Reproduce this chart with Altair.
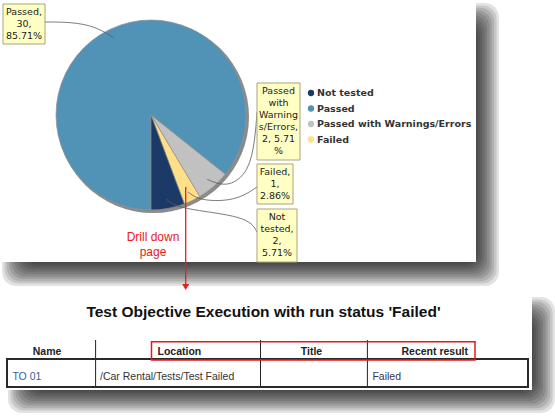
import math
import altair as alt
import pandas as pd

# ---------------- data ----------------
pie_status = ["Passed", "Passed with Warnings/Errors", "Failed", "Not tested"]
pie_count = [30, 2, 1, 2]
pie_colors = ["#5093b6", "#c1c1c1", "#ffdf87", "#1b3a67"]
legend_status = ["Not tested", "Passed", "Passed with Warnings/Errors", "Failed"]
callout_text = [
    "Passed,\n30,\n85.71%",
    "Passed\nwith\nWarning\ns/Errors,\n2, 5.71\n%",
    "Failed,\n1,\n2.86%",
    "Not\ntested,\n2,\n5.71%",
]
drill_text = "Drill down\npage"
table_title = "Test Objective Execution with run status 'Failed'"
table_header = ["Name", "Location", "Title", "Recent result"]
table_row = ["TO 01", "/Car Rental/Tests/Test Failed", "", "Failed"]

# ---------------- layout ----------------
W, H = 555, 416
CX, CY, R = 151, 115, 95
callout_box = [(3, 45, 4, 44), (257, 300, 83, 160), (257, 293, 164, 204), (257, 297, 209, 262)]
leader_route = [
    [(95, 26), (70, 22), (45, 22)],
    [(228, 188), (249, 172), (255, 140), (257, 112)],
    [(200, 201), (236, 201), (257, 187)],
    [(178, 209), (248, 216), (257, 232)],
]
legend_x, legend_y0, legend_step = 311, 93, 15.5
col_edges = [7, 95.6, 260.5, 367.4, 528]
header_pos = [(47, "center"), (157.5, "left"), (311.5, "center"), (468, "right")]
row_x = [12.4, 100, 266, 372.4]
row_colors = ["#3b5b9a", "#333333", "#333333", "#3a3444"]
HEAD_TOP, HEAD_Y, ROW_TOP, ROW_Y, ROW_BOT = 340, 351.5, 359, 377, 387
# panels (x1, x2, y1, y2) and their blurred shadow base rects
panel_rects = [(0, 476, 0, 262), (0, 532, 292, 390)]
shadow_rects = [(14, 487, 15, 274), (20, 543, 309, 401)]
BLUR_STEPS, BLUR_STEP, BLUR_ALPHA = 10, 2.4, 0.115

xs = alt.Scale(domain=[0, W], nice=False, zero=False)
ys = alt.Scale(domain=[0, H], nice=False, zero=False, reverse=True)


def X(f="x"):
    return alt.X(f"{f}:Q", scale=xs, axis=None)


def Y(f="y"):
    return alt.Y(f"{f}:Q", scale=ys, axis=None)


layers = []

# ---- panel drop shadows (stacked translucent rects imitate a blur) ----
srows = []
for (x1, x2, y1, y2) in shadow_rects:
    for k in range(BLUR_STEPS):
        d = (k - BLUR_STEPS / 2) * BLUR_STEP
        srows.append({"x": x1 + d, "x2": x2 - d, "y": y1 + d, "y2": y2 - d})
layers.append(alt.Chart(pd.DataFrame(srows)).mark_rect(
    color="#000000", opacity=BLUR_ALPHA, cornerRadius=14).encode(
    x=X(), x2="x2", y=Y(), y2="y2"))
panels = pd.DataFrame({"x": [p[0] for p in panel_rects], "x2": [p[1] for p in panel_rects],
                       "y": [p[2] for p in panel_rects], "y2": [p[3] for p in panel_rects]})
layers.append(alt.Chart(panels).mark_rect(color="white").encode(x=X(), x2="x2", y=Y(), y2="y2"))

# ---- pie ----
total = sum(pie_count)
pie_df = pd.DataFrame({"status": pie_status, "count": pie_count, "order": range(len(pie_status))})
layers.append(alt.Chart(pd.DataFrame({"k": [0]})).mark_arc(
    theta=0, theta2=2 * math.pi, outerRadius=R + 1, color="#8b8b8b").encode(
    x=alt.value(CX + 2), y=alt.value(CY + 2)))
layers.append(alt.Chart(pie_df).mark_arc(outerRadius=R, stroke="#8f8f8f", strokeWidth=0.7).encode(
    theta=alt.Theta("count:Q", stack=True,
                    scale=alt.Scale(domain=[0, total], range=[math.pi, 3 * math.pi], nice=False)),
    color=alt.Color("status:N", scale=alt.Scale(domain=pie_status, range=pie_colors), legend=None),
    order=alt.Order("order:Q"),
    x=alt.value(CX), y=alt.value(CY),
))

# ---- leader lines (anchor from slice mid-angle) ----
rows = []
cum = 0
for i, c in enumerate(pie_count):
    mid = math.pi + 2 * math.pi * (cum + c / 2) / total
    cum += c
    pts = [(CX + 0.9 * R * math.sin(mid), CY - 0.9 * R * math.cos(mid))] + leader_route[i]
    for j, (px, py) in enumerate(pts):
        rows.append({"key": i, "seq": j, "x": px, "y": py})
layers.append(alt.Chart(pd.DataFrame(rows)).mark_line(
    interpolate="basis", color="#5a5a5a", strokeWidth=0.8).encode(
    x=X(), y=Y(), detail="key:N", order="seq:Q"))

# ---- callout boxes ----
cb = pd.DataFrame({
    "x": [b[0] for b in callout_box], "x2": [b[1] for b in callout_box],
    "y": [b[2] for b in callout_box], "y2": [b[3] for b in callout_box],
    "text": callout_text,
})
cb["xc"] = (cb["x"] + cb["x2"]) / 2
cb["yt"] = cb["y"] + 2.5
layers.append(alt.Chart(cb).mark_rect(fill="#ffffc4", stroke="#a9a57a", strokeWidth=1).encode(
    x=X(), x2="x2", y=Y(), y2="y2"))
layers.append(alt.Chart(cb).mark_text(
    align="center", baseline="top", lineBreak="\n", lineHeight=12,
    font="DejaVu Sans", fontSize=9.5, color="#222222").encode(
    x=X("xc"), y=Y("yt"), text="text:N"))

# ---- legend ----
lg = pd.DataFrame({"status": legend_status,
                   "y": [legend_y0 + i * legend_step for i in range(len(legend_status))]})
lg["x"] = legend_x
lg["xt"] = legend_x + 6
layers.append(alt.Chart(lg).mark_point(shape="circle", filled=True, size=40, opacity=1).encode(
    x=X(), y=Y(),
    color=alt.Color("status:N", scale=alt.Scale(domain=pie_status, range=pie_colors), legend=None)))
layers.append(alt.Chart(lg).mark_text(
    align="left", baseline="middle", font="DejaVu Sans", fontWeight="bold",
    fontSize=9.5, color="#333333").encode(x=X("xt"), y=Y(), text="status:N"))

# ---- drill-down annotation ----
layers.append(alt.Chart(pd.DataFrame({"x": [153], "y": [231.5], "t": [drill_text]})).mark_text(
    align="center", baseline="top", lineBreak="\n", lineHeight=15,
    font="Liberation Sans", fontSize=12, color="#e8201c").encode(x=X(), y=Y(), text="t:N"))
layers.append(alt.Chart(pd.DataFrame({"x": [185.7], "y": [187], "y2": [285]})).mark_rule(
    color="#e8201c", strokeWidth=1.3).encode(x=X(), y=Y(), y2="y2"))
layers.append(alt.Chart(pd.DataFrame({"x": [185.7], "y": [287]})).mark_point(
    shape="triangle-down", filled=True, size=50, color="#e8201c", opacity=1).encode(x=X(), y=Y()))

# ---- table title ----
layers.append(alt.Chart(pd.DataFrame({"x": [263.5], "y": [312], "t": [table_title]})).mark_text(
    align="center", baseline="middle", font="Liberation Sans", fontWeight="bold",
    fontSize=15.5, color="#111111").encode(x=X(), y=Y(), text="t:N"))

# ---- table grid ----
inner = col_edges[1:-1]
layers.append(alt.Chart(pd.DataFrame({"x": inner, "y": [HEAD_TOP] * 3, "y2": [ROW_BOT] * 3})).mark_rule(
    color="#222222", strokeWidth=1).encode(x=X(), y=Y(), y2="y2"))
layers.append(alt.Chart(pd.DataFrame({"x": [col_edges[0]], "x2": [col_edges[-1]],
                                      "y": [ROW_TOP], "y2": [ROW_BOT]})).mark_rect(
    fill=None, stroke="#2a2a2a", strokeWidth=2).encode(x=X(), x2="x2", y=Y(), y2="y2"))

# header text
hd = pd.DataFrame({"t": table_header, "x": [p[0] for p in header_pos],
                   "a": [p[1] for p in header_pos], "y": [HEAD_Y] * 4})
for a in ("left", "center", "right"):
    sub = hd[hd["a"] == a]
    layers.append(alt.Chart(sub).mark_text(
        align=a, baseline="middle", font="Liberation Sans", fontWeight="bold",
        fontSize=10.5, color="#222222").encode(x=X(), y=Y(), text="t:N"))

# data row (one layer per text colour)
rd = pd.DataFrame({"t": table_row, "x": row_x, "y": [ROW_Y] * 4, "c": row_colors})
rd = rd[rd["t"] != ""].reset_index(drop=True)
for col in rd["c"].unique():
    sub = rd[rd["c"] == col]
    layers.append(alt.Chart(sub).mark_text(
        align="left", baseline="middle", font="Liberation Sans", fontSize=10.5, color=col).encode(
        x=X(), y=Y(), text="t:N"))

# red highlight box
layers.append(alt.Chart(pd.DataFrame({"x": [151.5], "x2": [475], "y": [341.7], "y2": [360]})).mark_rect(
    fill=None, stroke="#e8161a", strokeWidth=1.5).encode(x=X(), x2="x2", y=Y(), y2="y2"))

chart = alt.layer(*layers).properties(
    width=W, height=H, autosize=alt.AutoSizeParams(type="none"), padding=0,
    background="white",
).configure_view(stroke=None)

chart.save("out.html", embed_options={"renderer": "svg", "actions": False})
